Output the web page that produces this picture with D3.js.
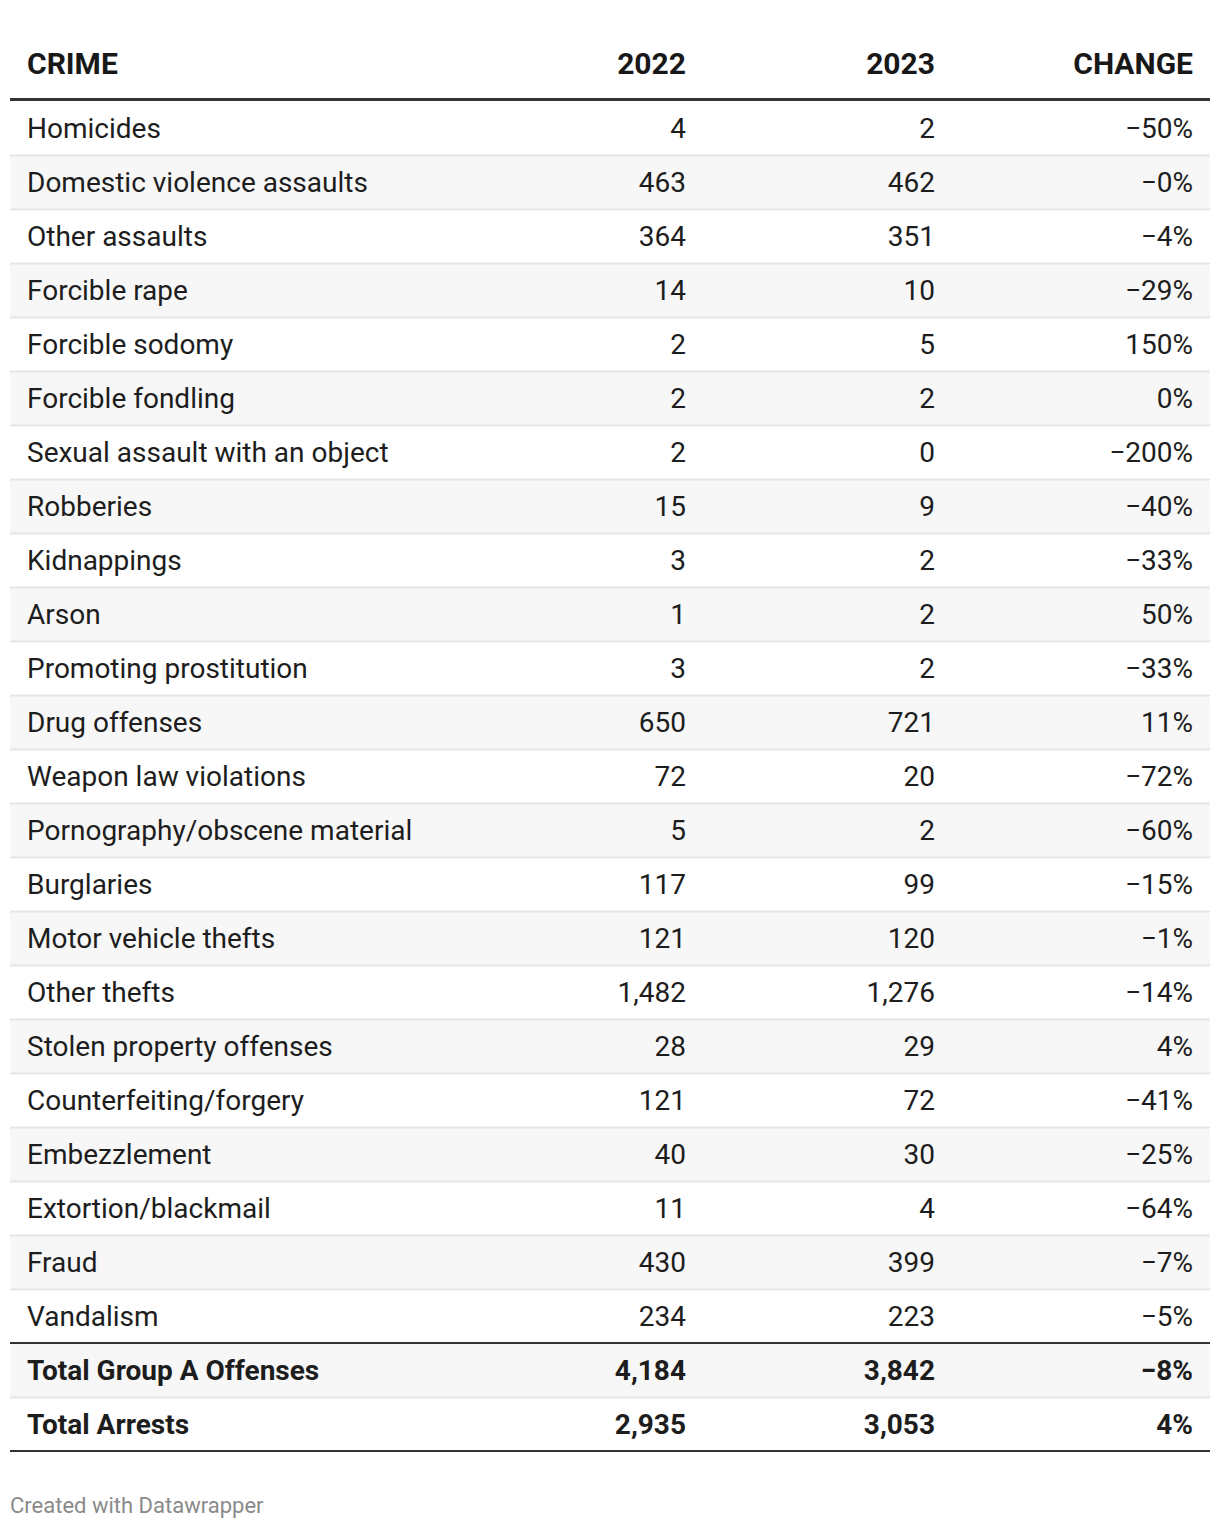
<!DOCTYPE html>
<html><head><meta charset="utf-8">
<script src="https://cdn.jsdelivr.net/npm/d3@7"></script>
<style>
html,body{margin:0;padding:0;background:#fff;}
svg{display:block;font-family:Roboto,"Noto Sans",sans-serif;}
</style></head>
<body>
<div id="chart"></div>
<script>
const headers = ["CRIME", "2022", "2023", "CHANGE"];
const crimes = ["Homicides","Domestic violence assaults","Other assaults","Forcible rape","Forcible sodomy","Forcible fondling","Sexual assault with an object","Robberies","Kidnappings","Arson","Promoting prostitution","Drug offenses","Weapon law violations","Pornography/obscene material","Burglaries","Motor vehicle thefts","Other thefts","Stolen property offenses","Counterfeiting/forgery","Embezzlement","Extortion/blackmail","Fraud","Vandalism","Total Group A Offenses","Total Arrests"];
const values2022 = [4,463,364,14,2,2,2,15,3,1,3,650,72,5,117,121,1482,28,121,40,11,430,234,4184,2935];
const values2023 = [2,462,351,10,5,2,0,9,2,2,2,721,20,2,99,120,1276,29,72,30,4,399,223,3842,3053];
const changes = [-50,-0,-4,-29,150,0,-200,-40,-33,50,-33,11,-72,-60,-15,-1,-14,4,-41,-25,-64,-7,-5,-8,4];
const totalRows = ["Total Group A Offenses","Total Arrests"];

const W = 1220, H = 1528;
const left = 10, right = 1210;
const headerY = 63, tableTop = 101;
const rowH = 54;

const svg = d3.select("#chart").append("svg").attr("width", W).attr("height", H);

const y = d3.scaleBand().domain(crimes).range([tableTop, tableTop + rowH * crimes.length]).paddingInner(0).paddingOuter(0);
const colX = d3.scaleOrdinal().domain(headers).range([27, 686, 935, 1193]);
const colAnchor = {"CRIME":"start","2022":"end","2023":"end","CHANGE":"end"};

const numFmt = d3.format(",");
const pctFmt = v => {
  const neg = v < 0 || Object.is(v, -0);
  return (neg ? "\u2212" : "") + Math.abs(v) + "%";
};

// Stripes
svg.append("g").selectAll("rect").data(crimes.filter((d,i) => i % 2 === 1)).join("rect")
  .attr("x", left).attr("width", right - left)
  .attr("y", d => y(d)).attr("height", y.bandwidth())
  .attr("fill", "#f7f7f7");

// Row separators
svg.append("g").selectAll("line").data(crimes.slice(1).filter(d => d !== totalRows[0])).join("line")
  .attr("x1", left).attr("x2", right)
  .attr("y1", d => y(d) + 0.5).attr("y2", d => y(d) + 0.5)
  .attr("stroke", "#e6e6e6").attr("stroke-width", 2);

// Header text
svg.append("g").selectAll("text").data(headers).join("text")
  .attr("x", d => colX(d)).attr("y", headerY)
  .attr("dy", "0.35em")
  .attr("text-anchor", d => colAnchor[d])
  .attr("font-weight", 700).attr("font-size", 30).attr("fill", "#181818")
  .text(d => d);

// Header rule
svg.append("line").attr("x1", left).attr("x2", right)
  .attr("y1", tableTop - 1.5).attr("y2", tableTop - 1.5)
  .attr("stroke", "#333").attr("stroke-width", 3);

// Total separator & bottom rule
svg.append("line").attr("x1", left).attr("x2", right)
  .attr("y1", y(totalRows[0])).attr("y2", y(totalRows[0]))
  .attr("stroke", "#333").attr("stroke-width", 2);
svg.append("line").attr("x1", left).attr("x2", right)
  .attr("y1", y.range()[1]).attr("y2", y.range()[1])
  .attr("stroke", "#333").attr("stroke-width", 2);

const rows = svg.append("g").selectAll("g").data(crimes.map((c,i) => ({c, v1: values2022[i], v2: values2023[i], ch: changes[i], bold: totalRows.includes(c)})))
  .join("g").attr("transform", d => `translate(0,${y(d.c) + y.bandwidth()/2})`);

const cellDefs = [
  {k:"CRIME", f: d => d.c},
  {k:"2022", f: d => numFmt(d.v1)},
  {k:"2023", f: d => numFmt(d.v2)},
  {k:"CHANGE", f: d => pctFmt(d.ch)}
];
cellDefs.forEach(cd => {
  rows.append("text")
    .attr("x", colX(cd.k))
    .attr("dy", "0.35em")
    .attr("text-anchor", colAnchor[cd.k])
    .attr("font-size", 28)
    .attr("font-weight", d => d.bold ? 700 : 400)
    .attr("fill", "#1d1d1d")
    .text(cd.f);
});

svg.append("text").attr("x", 10).attr("y", 1505).attr("dy", "0.35em")
  .attr("font-size", 22).attr("fill", "#8a8a8a").text("Created with Datawrapper");
</script>
</body></html>
